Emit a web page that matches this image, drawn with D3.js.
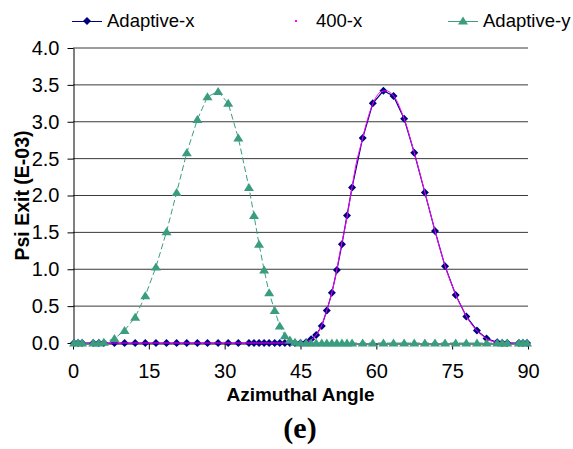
<!DOCTYPE html>
<html>
<head>
<meta charset="utf-8">
<script src="https://cdn.jsdelivr.net/npm/d3@7"></script>
<style>
  html, body { margin: 0; padding: 0; background: #fff; }
  svg { display: block; font-family: Arial, "Liberation Sans", sans-serif; }
</style>
</head>
<body>
<svg id="chart" width="573" height="449"></svg>
<script>
// Quadrature angles (degrees) of the adaptive discretisation
const angles = [0.2, 1.0, 1.8, 4.0, 5.1, 6.1, 8.2, 10.2, 12.3, 14.3, 16.4, 18.5, 20.5, 22.5,
  24.6, 26.6, 28.7, 30.7, 32.7, 34.8, 35.8, 36.8, 37.8, 38.8, 39.9, 40.9, 41.9, 42.9, 43.9,
  45.0, 46.1, 47.1, 48.1, 49.2, 50.2, 51.2, 52.2, 53.2, 54.2, 55.2, 57.3, 59.3, 61.4, 63.4,
  65.5, 67.5, 69.6, 71.6, 73.6, 75.7, 77.8, 79.9, 81.8, 83.9, 84.9, 85.9, 88.2, 89.0, 89.8];

// Exit flux (E-03) for the adaptive x-direction solution
const adaptiveX = [0, 0, 0, 0, 0, 0, 0, 0, 0, 0, 0, 0, 0, 0,
  0, 0, 0, 0, 0, 0, 0, 0, 0, 0, 0, 0, 0, 0, 0,
  0.00, 0.01, 0.05, 0.11, 0.23, 0.44, 0.68, 0.99, 1.34, 1.73, 2.11, 2.78, 3.25, 3.42, 3.35,
  3.04, 2.58, 2.04, 1.52, 1.04, 0.65, 0.36, 0.17, 0.06, 0.01, 0, 0, 0, 0, 0];

// Exit flux (E-03) for the adaptive y-direction solution
const adaptiveY = [0, 0, 0, 0, 0, 0.01, 0.06, 0.17, 0.35, 0.64, 1.03, 1.51, 2.04, 2.58,
  3.03, 3.34, 3.41, 3.25, 2.78, 2.11, 1.73, 1.34, 0.99, 0.68, 0.44, 0.23, 0.10, 0.04, 0.01,
  0, 0, 0, 0, 0, 0, 0, 0, 0, 0, 0, 0, 0, 0, 0,
  0, 0, 0, 0, 0, 0, 0, 0, 0, 0, 0, 0, 0, 0, 0];

// Reference solution with 400 uniform directions, read at whole degrees
const fineAngles = [0, 1, 2, 3, 4, 5, 6, 7, 8, 9, 10, 11, 12, 13, 14, 15, 16, 17, 18, 19, 20,
  21, 22, 23, 24, 25, 26, 27, 28, 29, 30, 31, 32, 33, 34, 35, 36, 37, 38, 39, 40, 41, 42, 43,
  44, 45, 46, 47, 48, 49, 50, 51, 52, 53, 54, 55, 56, 57, 58, 59, 60, 61, 62, 63, 64, 65, 66,
  67, 68, 69, 70, 71, 72, 73, 74, 75, 76, 77, 78, 79, 80, 81, 82, 83, 84, 85, 86, 87, 88, 89, 90];
const fineX = [0, 0, 0, 0, 0, 0, 0, 0, 0, 0, 0, 0, 0, 0, 0, 0, 0, 0, 0, 0, 0,
  0, 0, 0, 0, 0, 0, 0, 0, 0, 0, 0, 0, 0, 0, 0, 0, 0, 0, 0, 0, 0, 0, 0,
  0, 0, 0.01, 0.04, 0.10, 0.21, 0.40, 0.63, 0.93, 1.30, 1.63, 2.03, 2.43, 2.70, 2.97, 3.19, 3.34,
  3.41, 3.42, 3.38, 3.29, 3.13, 2.94, 2.70, 2.46, 2.20, 1.94, 1.68, 1.42, 1.18, 0.96, 0.78,
  0.61, 0.47, 0.34, 0.24, 0.16, 0.10, 0.05, 0.02, 0.01, 0, 0, 0, 0, 0, 0];

const xTicks = [0, 15, 30, 45, 60, 75, 90];
const yTicks = [0, 0.5, 1.0, 1.5, 2.0, 2.5, 3.0, 3.5, 4.0];
const seriesNames = ["Adaptive-x", "400-x", "Adaptive-y"];

const NAVY = "#000080", MAGENTA = "#ff00ff", TEAL = "#3a9d7f";

const svg = d3.select("#chart");
const x = d3.scaleLinear().domain([0, 90]).range([73, 528]);
const y = d3.scaleLinear().domain([0, 4]).range([343, 48]);

const diamond = r => `M0,${-r}L${r},0L0,${r}L${-r},0Z`;
const triangle = "M0,-4.5L5,3.5L-5,3.5Z";

// Horizontal gridlines
svg.append("g")
  .selectAll("line")
  .data(yTicks.filter(v => v > 0))
  .join("line")
  .attr("x1", x(0)).attr("x2", x(90))
  .attr("y1", d => y(d)).attr("y2", d => y(d))
  .attr("stroke", "#3a3a3a").attr("stroke-width", 1);

// Axes
const yAxis = svg.append("g")
  .attr("transform", `translate(${x(0) + 0.5},0)`)
  .call(d3.axisLeft(y).tickValues(yTicks).tickFormat(d3.format(".1f"))
    .tickSize(6).tickSizeOuter(0).tickPadding(8));
const xAxis = svg.append("g")
  .attr("transform", `translate(0,${y(0) + 0.5})`)
  .call(d3.axisBottom(x).tickValues(xTicks).tickFormat(d3.format("d"))
    .tickSize(6).tickSizeOuter(0).tickPadding(14));
[yAxis, xAxis].forEach(g => {
  g.selectAll("path, line").attr("stroke", "#000");
  g.selectAll("text").attr("font-size", 20).attr("fill", "#000")
    .attr("font-family", "Arial, 'Liberation Sans', sans-serif");
});

// Adaptive-x: navy line with diamonds
const ptsX = angles.map((a, i) => [a, adaptiveX[i]]);
const ptsY = angles.map((a, i) => [a, adaptiveY[i]]);
const ptsF = fineAngles.map((a, i) => [a, fineX[i]]);
const line = d3.line().x(d => x(d[0])).y(d => y(d[1]));

svg.append("path").datum(ptsX).attr("d", line)
  .attr("fill", "none").attr("stroke", NAVY).attr("stroke-width", 1.2);
svg.append("g").selectAll("path").data(ptsX).join("path")
  .attr("transform", d => `translate(${x(d[0])},${y(d[1])})`)
  .attr("d", diamond(4)).attr("fill", NAVY);

// 400-x reference: thin magenta curve
svg.append("path").datum(ptsF).attr("d", line.curve(d3.curveMonotoneX))
  .attr("fill", "none").attr("stroke", MAGENTA).attr("stroke-width", 1);
line.curve(d3.curveLinear);

// Adaptive-y: dashed teal line with triangles
svg.append("path").datum(ptsY).attr("d", line)
  .attr("fill", "none").attr("stroke", TEAL).attr("stroke-width", 1)
  .attr("stroke-dasharray", "6,3");
svg.append("g").selectAll("path").data(ptsY).join("path")
  .attr("transform", d => `translate(${x(d[0])},${y(d[1])})`)
  .attr("d", triangle).attr("fill", TEAL);

// Legend
const legendItems = [
  { name: seriesNames[0], lx: 72, color: NAVY, kind: "diamond" },
  { name: seriesNames[1], lx: 281, color: MAGENTA, kind: "dot" },
  { name: seriesNames[2], lx: 448, color: TEAL, kind: "triangle" }
];
const lg = svg.append("g").attr("transform", "translate(0,21)");
legendItems.forEach(it => {
  const g = lg.append("g").attr("transform", `translate(${it.lx},0)`);
  if (it.kind === "dot") {
    g.append("rect").attr("x", 14).attr("y", -1).attr("width", 2).attr("height", 2)
      .attr("fill", it.color);
  } else {
    g.append("line").attr("x1", 0).attr("x2", 30).attr("y1", 0.5).attr("y2", 0.5)
      .attr("stroke", it.color).attr("stroke-width", 1);
    g.append("path").attr("transform", "translate(15,0)")
      .attr("d", it.kind === "diamond" ? diamond(4) : triangle).attr("fill", it.color);
  }
  g.append("text").attr("x", 35).attr("y", 0).attr("dy", "0.35em")
    .attr("font-size", 18.5).attr("fill", "#000").text(it.name);
});

// Axis titles
svg.append("text")
  .attr("transform", `translate(29,${(y(0) + y(4)) / 2}) rotate(-90)`)
  .attr("text-anchor", "middle").attr("font-size", 19.5).attr("font-weight", "bold")
  .text("Psi Exit (E-03)");
svg.append("text")
  .attr("x", (x(0) + x(90)) / 2).attr("y", 401)
  .attr("text-anchor", "middle").attr("font-size", 19).attr("font-weight", "bold")
  .text("Azimuthal Angle");

// Panel label
svg.append("text")
  .attr("x", 300).attr("y", 438)
  .attr("text-anchor", "middle")
  .attr("font-family", "'Times New Roman', 'Liberation Serif', serif")
  .attr("font-size", 30).attr("font-weight", "bold")
  .text("(e)");
</script>
</body>
</html>
